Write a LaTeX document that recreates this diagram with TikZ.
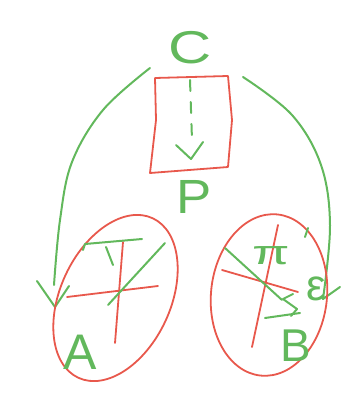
\documentclass[tikz,border=0pt]{standalone}
\usepackage{fontspec}
\setmainfont{Liberation Sans}
\definecolor{pen}{RGB}{98,184,92}
\definecolor{ink}{RGB}{232,88,76}
\begin{document}
\begin{tikzpicture}[x=1pt,y=-1pt,
  gline/.style={draw=pen,line width=2pt,line cap=round,line join=round},
  rline/.style={draw=ink,line width=1.8pt,line cap=round,line join=round},
  lbl/.style={text=pen,inner sep=0pt,anchor=center}]
\useasboundingbox (0,0) rectangle (348,420);
% top letter C and box
\node[lbl,font=\fontsize{46}{46}\selectfont,xscale=1.3] (c) at (190,48) {C};
\draw[rline] (155,78) -- (228,76) -- (232,120) -- (228,167) -- (150,173) -- (156,120) -- cycle;
\coordinate (dtop) at (190,80);
\coordinate (dtip) at (191,159);
\draw[gline,dash pattern=on 11pt off 11pt] (dtop) -- (192,140);
\draw[gline] (176,145) -- (dtip) -- (203,142);
\node[lbl,font=\fontsize{48}{48}\selectfont,xscale=1.1] (p) at (194,197) {P};
% left arc
\coordinate (la) at (150,68);
\coordinate (lt) at (55,307);
\draw[gline] plot[smooth,tension=0.6] coordinates {(la) (103,110) (72,162) (60,220) (54,285)};
\draw[gline] (37,281) -- (lt) -- (69,286);
% right arc
\coordinate (ra) at (243,77);
\coordinate (rt) at (323,299);
\draw[gline] plot[smooth,tension=0.6] coordinates {(ra) (292,115) (321,165) (330,225) (rt)};
\draw[gline] (340,287) -- (rt);
% left ellipse
\draw[rline,rotate around={65:(115.5,298)}] (115.5,298) ellipse [x radius=88pt, y radius=55pt];
\draw[rline] (67,297) -- (158,286);
\draw[rline] (123,242) -- (115,343);
\draw[gline] (83,250) -- (85,244) -- (142,239);
\draw[gline] (106,247) -- (113,265);
\draw[gline] (165,243) -- (108,305);
\node[lbl,font=\fontsize{50}{50}\selectfont] (a) at (80,352) {A};
% right ellipse
\draw[rline,rotate around={-6:(269,295)}] (269,295) ellipse [x radius=58pt, y radius=81pt];
\draw[rline] (278,225) -- (252,347);
\draw[rline] (222,270) -- (298,292);
\draw[gline] (225,248) -- (282,300);
\node[lbl,font=\fontsize{34}{34}\selectfont,xscale=1.6] (pi) at (271,256) {π};
\draw[gline] (305,237) -- (308,228);
\node[lbl,font=\fontsize{44}{44}\selectfont] (eps) at (316,289) {ε};
\draw[gline] (293,294) -- (283,299) -- (297,309) -- (291,316);
\draw[gline] (265,318) -- (300,313);
\node[lbl,font=\fontsize{46}{46}\selectfont] (b) at (296,346) {B};
\end{tikzpicture}
\end{document}
